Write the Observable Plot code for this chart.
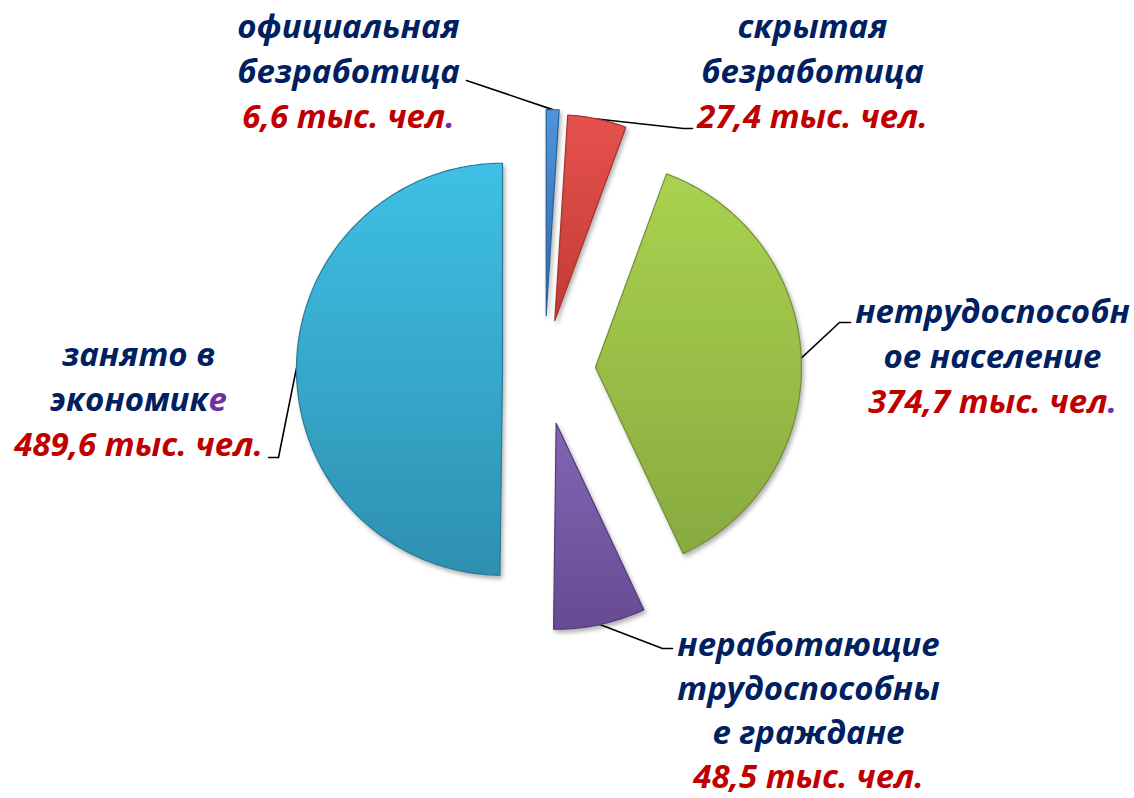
<!DOCTYPE html>
<html><head><meta charset="utf-8">
<script src="https://cdn.jsdelivr.net/npm/d3@7"></script>
<script src="https://cdn.jsdelivr.net/npm/@observablehq/plot@0.6"></script>
<style>
body{margin:0;background:#fff}
#chart{width:1134px;height:798px}
</style>
</head><body><div id="chart"></div>
<script>
// ---- data ----
const categories = ["официальная безработица", "скрытая безработица", "нетрудоспособное население", "неработающие трудоспособные граждане", "занято в экономике"];
const labelLines = [["официальная", "безработица"], ["скрытая", "безработица"], ["нетрудоспособн", "ое население"], ["неработающие", "трудоспособны", "е граждане"], ["занято в", "экономике"]];
const values = [6.6, 27.4, 374.7, 48.5, 489.6];          // тыс. чел.
const shares = [1.0, 4.6, 37.4, 7.2, 49.8];              // slice sizes as drawn, %
const unit = "тыс. чел.";

// ---- styles / layout ----
const colorTop = ["#4f95dc", "#e5524d", "#a9d24f", "#8366b3", "#3fc0e6"];
const colorBot = ["#2c69ad", "#c33a36", "#88aa40", "#684a93", "#2e90b0"];
const edgeCol  = ["#2a5f9c", "#a8302c", "#738f34", "#55397c", "#277b97"];
const W = 1134, H = 798, cx = 544, cy = 369, R = 206;
const explode = [54, 50, 51, 55, 42];
const labelPos = [[348, 37], [812, 37], [992, 322], [808, 655], [138, 365]];
const lineGaps = [45, 45, 45, 44, 45];
const leaderPts = [[[466, 80]], [[683, 128], [692, 128]], [[839, 322], [850, 322]], [[662, 648], [672, 648]], [[278, 457], [268, 457]]];
const fontSize = 33;
const navy = "#002060", red = "#c00000", purple = "#7030a0";
const accentLines = ["экономике", "6,6 тыс. чел.", "374,7 тыс. чел."];

// ---- geometry from data ----
const arcs = d3.pie().sort(null).value(d => d)(shares);
const slices = [], leaders = [], texts = [];
arcs.forEach((a, i) => {
  const mid = (a.startAngle + a.endAngle) / 2;
  const ox = cx + explode[i] * Math.sin(mid), oy = cy - explode[i] * Math.cos(mid);
  slices.push({s: i, x: ox, y: oy});
  const n = Math.max(4, Math.ceil((a.endAngle - a.startAngle) / (Math.PI / 180)));
  for (let k = 0; k <= n; k++) {
    const t = a.startAngle + (a.endAngle - a.startAngle) * k / n;
    slices.push({s: i, x: ox + R * Math.sin(t), y: oy - R * Math.cos(t)});
  }
  slices.push({s: i, x: ox, y: oy});
  leaders.push({s: i, x: ox + R * Math.sin(mid), y: oy - R * Math.cos(mid)});
  leaderPts[i].forEach(([x, y]) => leaders.push({s: i, x, y}));
  const [lx, ly] = labelPos[i];
  labelLines[i].forEach((t, j) => texts.push({x: lx, y: ly + j * lineGaps[i], text: t, fill: navy}));
  texts.push({x: lx, y: ly + labelLines[i].length * lineGaps[i],
    text: values[i].toFixed(1).replace(".", ",") + " " + unit, fill: red});
});

const chart = Plot.plot({
  width: W, height: H, margin: 0,
  x: {domain: [0, W], range: [0, W], axis: null},
  y: {domain: [0, H], range: [0, H], axis: null},
  color: {type: "identity"},
  style: {background: "white"},
  marks: [
    Plot.line(leaders, {x: "x", y: "y", z: "s", stroke: "black", strokeWidth: 1.6}),
    Plot.line(slices, {x: "x", y: "y", z: "s", curve: "linear",
      fill: d => `url(#grad${d.s})`, stroke: d => edgeCol[d.s], strokeWidth: 1.2, strokeLinejoin: "round"}),
    Plot.text(texts, {x: "x", y: "y", text: "text", fill: "fill", lineAnchor: "bottom",
      fontSize, fontWeight: "bold", fontStyle: "italic", fontFamily: "'Open Sans', 'Noto Sans', sans-serif"})
  ]
});

// gradients + shading
const svg = d3.select(chart);
const defs = svg.insert("defs", ":first-child");
colorTop.forEach((c, i) => {
  const g = defs.append("linearGradient").attr("id", `grad${i}`).attr("x1", 0).attr("y1", 0).attr("x2", 0).attr("y2", 1);
  g.append("stop").attr("offset", "0%").attr("stop-color", c);
  g.append("stop").attr("offset", "100%").attr("stop-color", colorBot[i]);
});
svg.selectAll("g[aria-label=line]").filter((d, i, n) => i === 1)
  .style("filter", "drop-shadow(2px 3px 2px rgba(0,0,0,0.3))");
svg.selectAll("text").each(function() {
  const t = this.textContent;
  if (accentLines.includes(t)) {
    const el = d3.select(this);
    el.text(t.slice(0, -1));
    el.append("tspan").attr("fill", purple).text(t.slice(-1));
  }
});
document.getElementById("chart").appendChild(chart);
</script>
</body></html>
